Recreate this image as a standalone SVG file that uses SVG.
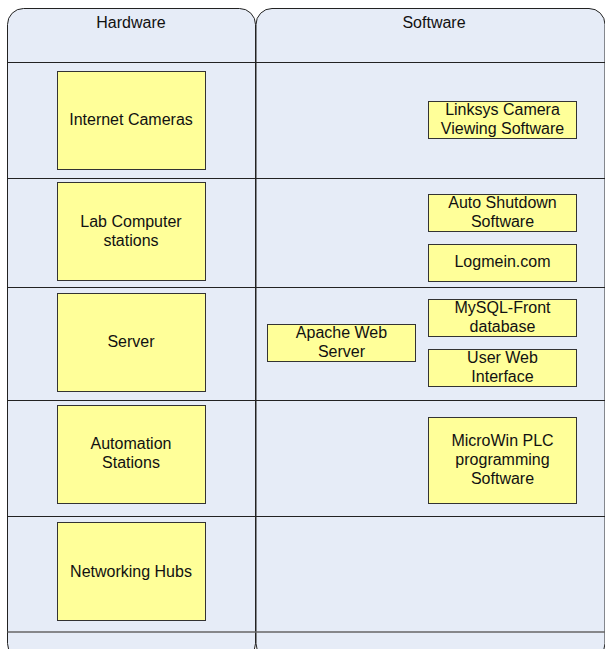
<svg xmlns="http://www.w3.org/2000/svg" width="605" height="649" viewBox="0 0 605 649">
<style>
.lane{fill:#E6ECF7;stroke:#222;stroke-width:1}
.row{stroke:#222;stroke-width:1.2}
.box{fill:#FFFF99;stroke:#333;stroke-width:1}
text{font-family:"Liberation Sans",Arial,sans-serif;font-size:16px;fill:#111;text-anchor:middle}
</style>
<rect width="605" height="649" fill="#fff"/>
<g id="lane-hardware">
<rect class="lane" x="7.5" y="8.5" width="248" height="651" rx="16" ry="16"/>
<text x="131" y="28">Hardware</text>
</g>
<g id="lane-software">
<rect class="lane" x="256" y="8.5" width="349" height="651" rx="16" ry="16"/>
<text x="434" y="28">Software</text>
</g>
<g id="rows">
<line class="row" x1="7.5" y1="62.5" x2="605" y2="62.5"/>
<line class="row" x1="7.5" y1="178.5" x2="605" y2="178.5"/>
<line class="row" x1="7.5" y1="287.5" x2="605" y2="287.5"/>
<line class="row" x1="7.5" y1="400.5" x2="605" y2="400.5" stroke="#444"/>
<line class="row" x1="7.5" y1="516.5" x2="605" y2="516.5"/>
<line x1="7.5" y1="632" x2="605" y2="632" stroke="#666" stroke-width="1.6"/>
</g>
<g id="internet-cameras">
<rect class="box" x="57.5" y="71.5" width="148" height="98"/>
<text x="131" y="125">Internet Cameras</text>
</g>
<g id="lab-computer-stations">
<rect class="box" x="57.5" y="182.5" width="148" height="98"/>
<text x="131" y="227">Lab Computer</text>
<text x="131" y="246">stations</text>
</g>
<g id="server">
<rect class="box" x="57.5" y="293.5" width="148" height="98"/>
<text x="131" y="347">Server</text>
</g>
<g id="automation-stations">
<rect class="box" x="57.5" y="405.5" width="148" height="98"/>
<text x="131" y="449">Automation</text>
<text x="131" y="468">Stations</text>
</g>
<g id="networking-hubs">
<rect class="box" x="57.5" y="522.5" width="148" height="98"/>
<text x="131" y="577">Networking Hubs</text>
</g>
<g id="linksys">
<rect class="box" x="428.5" y="101.5" width="148" height="37"/>
<text x="502.5" y="115">Linksys Camera</text>
<text x="502.5" y="134">Viewing Software</text>
</g>
<g id="auto-shutdown">
<rect class="box" x="428.5" y="194.5" width="148" height="37"/>
<text x="502.5" y="208">Auto Shutdown</text>
<text x="502.5" y="227">Software</text>
</g>
<g id="logmein">
<rect class="box" x="428.5" y="244.5" width="148" height="37"/>
<text x="502.5" y="267">Logmein.com</text>
</g>
<g id="mysql-front">
<rect class="box" x="428.5" y="299.5" width="148" height="37"/>
<text x="502.5" y="313">MySQL-Front</text>
<text x="502.5" y="332">database</text>
</g>
<g id="user-web-interface">
<rect class="box" x="428.5" y="349.5" width="148" height="37"/>
<text x="502.5" y="363">User Web</text>
<text x="502.5" y="382">Interface</text>
</g>
<g id="apache">
<rect class="box" x="267.5" y="324.5" width="148" height="37"/>
<text x="341.5" y="338">Apache Web</text>
<text x="341.5" y="357">Server</text>
</g>
<g id="microwin">
<rect class="box" x="428.5" y="417.5" width="148" height="86"/>
<text x="502.5" y="446">MicroWin PLC</text>
<text x="502.5" y="465">programming</text>
<text x="502.5" y="484">Software</text>
</g>
<g id="connectors"></g>
</svg>
